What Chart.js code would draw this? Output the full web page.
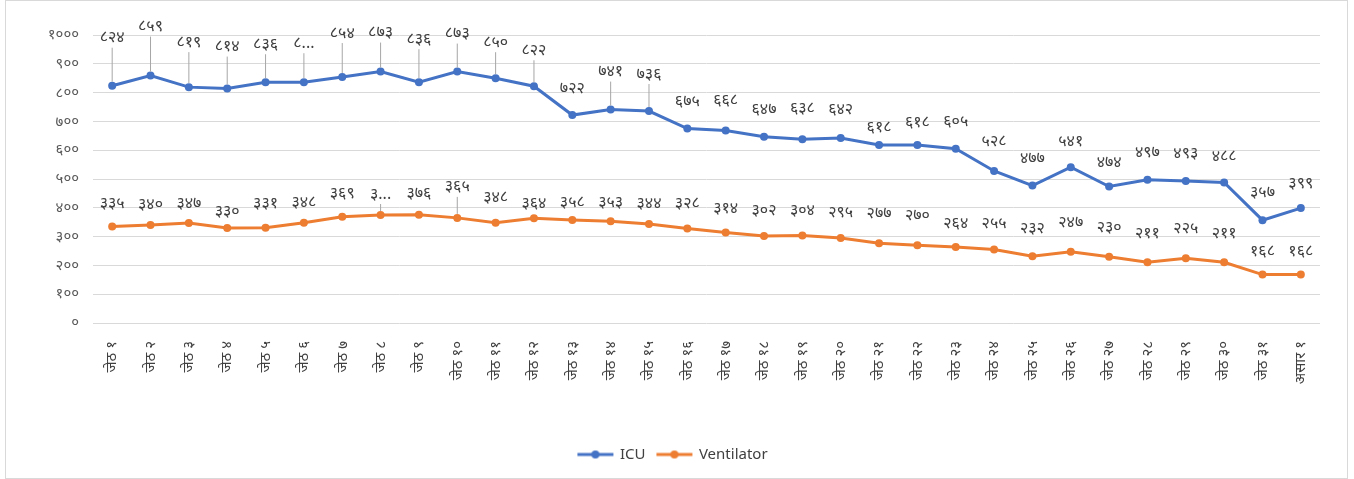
<!DOCTYPE html>
<html>
<head>
<meta charset="utf-8">
<script src="https://cdn.jsdelivr.net/npm/chart.js@4/dist/chart.umd.min.js"></script>
<style>
  body { margin: 0; background: #fff; }
  #wrap { position: absolute; left: 5px; top: 0; width: 1341px; height: 477px; border: 1px solid #d9d9d9; }
</style>
</head>
<body>
<div id="wrap"><canvas id="c"></canvas></div>
<script>
// chart data
const days = ['जेठ १', 'जेठ २', 'जेठ ३', 'जेठ ४', 'जेठ ५', 'जेठ ६', 'जेठ ७', 'जेठ ८', 'जेठ ९', 'जेठ १०',
    'जेठ ११', 'जेठ १२', 'जेठ १३', 'जेठ १४', 'जेठ १५', 'जेठ १६', 'जेठ १७', 'जेठ १८', 'जेठ १९', 'जेठ २०',
    'जेठ २१', 'जेठ २२', 'जेठ २३', 'जेठ २४', 'जेठ २५', 'जेठ २६', 'जेठ २७', 'जेठ २८', 'जेठ २९', 'जेठ ३०',
    'जेठ ३१', 'असार १'];
const icu = [824, 859, 819, 814, 836, 836, 854, 873, 836, 873, 850, 822, 722, 741, 736, 675,
    668, 647, 638, 642, 618, 618, 605, 528, 477, 541, 474, 497, 493, 488, 357, 399];
const ventilator = [335, 340, 347, 330, 331, 348, 369, 375, 376, 365, 348, 364, 358, 353, 344, 328,
    314, 302, 304, 295, 277, 270, 264, 255, 232, 247, 230, 211, 225, 211, 168, 168];
const yTicks = [0, 100, 200, 300, 400, 500, 600, 700, 800, 900, 1000];

// labels that excel cut short
const icuCut = { 5: '८...' };
const ventCut = { 7: '३...' };

const digits = '०१२३४५६७८९';
const toNe = n => String(n).replace(/\d/g, d => digits[d]);

const FONT = "'Noto Sans', 'DejaVu Sans', sans-serif";
const BLUE = '#4472c4';
const ORANGE = '#ed7d31';

// how far above the point each data label sits
const icuLift = [48, 49, 45, 42, 38, 39, 44, 39, 43, 38, 36, 36, 27, 38, 37, 27, 30, 27, 31, 29, 18, 23, 27, 29, 27, 26, 24, 27, 28, 26, 28, 25];
const ventLift = [23, 21, 20, 17, 24, 20, 23, 21, 21, 31, 25, 15, 17, 19, 20, 25, 24, 26, 25, 26, 30, 30, 24, 26, 28, 29, 29, 29, 30, 29, 23, 23];
const icuLeaders = [0, 1, 2, 3, 4, 5, 6, 7, 8, 9, 10, 11, 13, 14];
const ventLeaders = [7, 9];

const dataLabels = {
    id: 'dataLabels',
    afterDatasetsDraw(chart) {
        const ctx = chart.ctx;
        const setup = [
            { lift: icuLift, cut: icuCut, leaders: icuLeaders },
            { lift: ventLift, cut: ventCut, leaders: ventLeaders }
        ];
        ctx.save();
        ctx.font = '16px ' + FONT;
        ctx.textAlign = 'center';
        ctx.textBaseline = 'middle';
        chart.data.datasets.forEach((ds, di) => {
            const meta = chart.getDatasetMeta(di);
            const s = setup[di];
            meta.data.forEach((pt, i) => {
                const ly = pt.y - s.lift[i];
                if (s.leaders.includes(i)) {
                    ctx.strokeStyle = '#a6a6a6';
                    ctx.lineWidth = 1;
                    ctx.beginPath();
                    ctx.moveTo(pt.x, ly + 10);
                    ctx.lineTo(pt.x, pt.y - 4);
                    ctx.stroke();
                }
                ctx.fillStyle = '#404040';
                ctx.fillText(s.cut[i] || toNe(ds.data[i]), pt.x, ly);
            });
        });
        ctx.restore();
    }
};

// legend marker: short line with a dot on it
const legendMark = color => {
    const cv = document.createElement('canvas');
    cv.width = 38;
    cv.height = 10;
    const g = cv.getContext('2d');
    g.strokeStyle = color;
    g.lineWidth = 3;
    g.beginPath();
    g.moveTo(1, 5);
    g.lineTo(37, 5);
    g.stroke();
    g.fillStyle = color;
    g.beginPath();
    g.arc(19, 5, 4, 0, Math.PI * 2);
    g.fill();
    return cv;
};

const wrap = document.getElementById('wrap');
const canvas = document.getElementById('c');
canvas.width = wrap.clientWidth;
canvas.height = wrap.clientHeight;

new Chart(canvas, {
    type: 'line',
    data: {
        labels: days,
        datasets: [
            {
                label: 'ICU',
                data: icu,
                borderColor: BLUE,
                backgroundColor: BLUE,
                borderWidth: 3,
                pointRadius: 4,
                pointBackgroundColor: BLUE,
                pointBorderWidth: 0,
                tension: 0
            },
            {
                label: 'Ventilator',
                data: ventilator,
                borderColor: ORANGE,
                backgroundColor: ORANGE,
                borderWidth: 3,
                pointRadius: 4,
                pointBackgroundColor: ORANGE,
                pointBorderWidth: 0,
                tension: 0
            }
        ]
    },
    options: {
        responsive: false,
        animation: false,
        layout: { padding: { left: 20, right: 27, top: 34, bottom: 6 } },
        plugins: {
            legend: {
                position: 'bottom',
                labels: {
                    color: '#404040',
                    font: { size: 15, family: FONT },
                    usePointStyle: true,
                    pointStyleWidth: 34,
                    padding: 12,
                    generateLabels: chart => chart.data.datasets.map((ds, i) => ({
                        text: ds.label,
                        fontColor: '#404040',
                        pointStyle: legendMark(ds.borderColor),
                        datasetIndex: i,
                        hidden: false,
                        lineWidth: 0
                    }))
                }
            },
            tooltip: { enabled: false }
        },
        scales: {
            x: {
                offset: true,
                grid: { display: false },
                border: { display: false },
                afterFit: s => { s.height = 112; },
                ticks: {
                    color: '#404040',
                    font: { size: 15, family: FONT },
                    minRotation: 90,
                    maxRotation: 90,
                    autoSkip: false,
                    padding: 10
                }
            },
            y: {
                min: 0,
                max: 1000,
                afterFit: s => { s.width = 67; },
                afterBuildTicks: s => { s.ticks = yTicks.map(v => ({ value: v })); },
                grid: { color: '#d9d9d9', drawTicks: false },
                border: { display: false },
                ticks: {
                    color: '#595959',
                    font: { size: 15, family: FONT },
                    padding: 14,
                    callback: v => toNe(v)
                }
            }
        }
    },
    plugins: [dataLabels]
});
</script>
</body>
</html>
